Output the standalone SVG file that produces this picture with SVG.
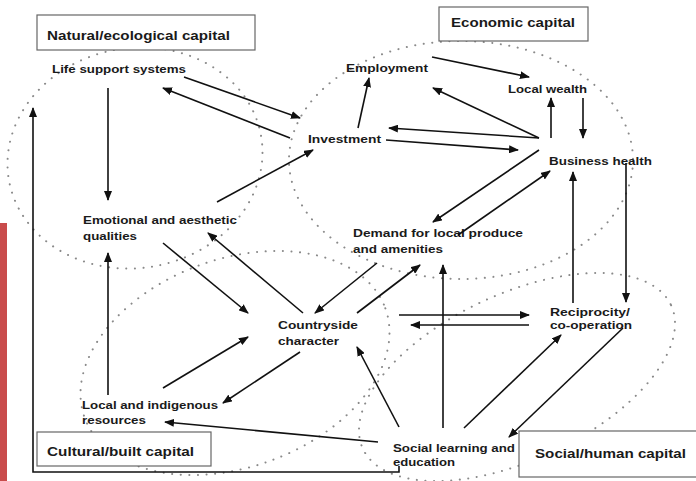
<svg xmlns="http://www.w3.org/2000/svg" width="696" height="481" viewBox="0 0 696 481">
<defs>
<marker id="ah" markerUnits="userSpaceOnUse" markerWidth="10" markerHeight="8" refX="9" refY="4" orient="auto">
<path d="M0,0 L10,4 L0,8 z" fill="#111"/>
</marker>
<style>
.bg{fill:#fff}
.ell{fill:none;stroke:#8a8a8a;stroke-width:2;stroke-dasharray:0.1 8.5;stroke-linecap:round}
.box{fill:#fff;stroke:#666;stroke-width:1.2}
.t{font-family:"Liberation Sans",Arial,sans-serif;font-weight:bold;fill:#1a1a1a}
.cap{font-size:13px}
.lab{font-size:11px}
.c line,.c polyline{stroke:#111;stroke-width:1.6;fill:none}
.a{marker-end:url(#ah)}
</style>
</defs>
<rect class="bg" x="0" y="0" width="696" height="481"/>
<rect x="0" y="223" width="7" height="258" fill="#c94c4c"/>

<g id="ellipses">
<ellipse class="ell" cx="135" cy="158" rx="128" ry="110" transform="rotate(-10 135 158)"/>
<ellipse class="ell" cx="461" cy="160" rx="172" ry="119"/>
<ellipse class="ell" cx="235" cy="363" rx="160" ry="104" transform="rotate(-20 235 363)"/>
<ellipse class="ell" cx="517" cy="377" rx="170" ry="83" transform="rotate(-25 517 377)"/>
</g>

<g id="natural-capital">
<rect class="box" x="37" y="15" width="218" height="35"/>
<text class="t cap" x="47" y="40" textLength="183" lengthAdjust="spacingAndGlyphs">Natural/ecological capital</text>
</g>
<g id="economic-capital">
<rect class="box" x="439" y="7" width="149" height="34"/>
<text class="t cap" x="451" y="27" textLength="124" lengthAdjust="spacingAndGlyphs">Economic capital</text>
</g>
<g id="cultural-capital">
<rect class="box" x="37" y="432" width="174" height="34"/>
<text class="t cap" x="47" y="456" textLength="147" lengthAdjust="spacingAndGlyphs">Cultural/built capital</text>
</g>
<g id="social-capital">
<rect class="box" x="519" y="431" width="180" height="46"/>
<text class="t cap" x="535" y="458" textLength="151" lengthAdjust="spacingAndGlyphs">Social/human capital</text>
</g>

<g id="life-support">
<text class="t lab" x="52" y="73" textLength="134" lengthAdjust="spacingAndGlyphs">Life support systems</text>
</g>
<g id="employment">
<text class="t lab" x="346" y="72" textLength="82" lengthAdjust="spacingAndGlyphs">Employment</text>
</g>
<g id="local-wealth">
<text class="t lab" x="508" y="93" textLength="79" lengthAdjust="spacingAndGlyphs">Local wealth</text>
</g>
<g id="investment">
<text class="t lab" x="308" y="143" textLength="73" lengthAdjust="spacingAndGlyphs">Investment</text>
</g>
<g id="business-health">
<text class="t lab" x="549" y="165" textLength="103" lengthAdjust="spacingAndGlyphs">Business health</text>
</g>
<g id="emotional">
<text class="t lab" x="83" y="224" textLength="154" lengthAdjust="spacingAndGlyphs">Emotional and aesthetic</text>
<text class="t lab" x="83" y="240" textLength="54" lengthAdjust="spacingAndGlyphs">qualities</text>
</g>
<g id="demand">
<text class="t lab" x="353" y="237" textLength="170" lengthAdjust="spacingAndGlyphs">Demand for local produce</text>
<text class="t lab" x="353" y="253" textLength="90" lengthAdjust="spacingAndGlyphs">and amenities</text>
</g>
<g id="countryside">
<text class="t lab" x="278" y="329" textLength="80" lengthAdjust="spacingAndGlyphs">Countryside</text>
<text class="t lab" x="278" y="345" textLength="61" lengthAdjust="spacingAndGlyphs">character</text>
</g>
<g id="reciprocity">
<text class="t lab" x="550" y="316" textLength="80" lengthAdjust="spacingAndGlyphs">Reciprocity/</text>
<text class="t lab" x="550" y="329" textLength="82" lengthAdjust="spacingAndGlyphs">co-operation</text>
</g>
<g id="local-resources">
<text class="t lab" x="82" y="409" textLength="136" lengthAdjust="spacingAndGlyphs">Local and indigenous</text>
<text class="t lab" x="82" y="424" textLength="64" lengthAdjust="spacingAndGlyphs">resources</text>
</g>
<g id="social-learning">
<text class="t lab" x="393" y="452" textLength="122" lengthAdjust="spacingAndGlyphs">Social learning and</text>
<text class="t lab" x="393" y="466" textLength="62" lengthAdjust="spacingAndGlyphs">education</text>
</g>

<g id="connectors" class="c">
<line class="a" x1="184" y1="77" x2="300" y2="118"/>
<line class="a" x1="290" y1="138" x2="163" y2="88"/>
<line class="a" x1="108" y1="88" x2="108" y2="200"/>
<line class="a" x1="217" y1="202" x2="313" y2="150"/>
<polyline class="a" points="399,466 399,472 33,472 33,108"/>
<line class="a" x1="358" y1="128" x2="369" y2="78"/>
<line class="a" x1="432" y1="57" x2="529" y2="77"/>
<line class="a" x1="539" y1="138" x2="433" y2="88"/>
<line class="a" x1="539" y1="138" x2="389" y2="128"/>
<line class="a" x1="386" y1="140" x2="518" y2="150"/>
<line class="a" x1="551" y1="138" x2="551" y2="98"/>
<line class="a" x1="583" y1="98" x2="583" y2="138"/>
<line class="a" x1="539" y1="150" x2="433" y2="222"/>
<line class="a" x1="458" y1="235" x2="550" y2="171"/>
<line class="a" x1="357" y1="313" x2="420" y2="265"/>
<line class="a" x1="377" y1="263" x2="315" y2="313"/>
<line class="a" x1="303" y1="313" x2="208" y2="233"/>
<line class="a" x1="163" y1="243" x2="248" y2="313"/>
<line class="a" x1="163" y1="388" x2="248" y2="337"/>
<line class="a" x1="300" y1="352" x2="223" y2="403"/>
<line class="a" x1="108" y1="395" x2="108" y2="253"/>
<line class="a" x1="378" y1="442" x2="165" y2="422"/>
<line class="a" x1="399" y1="427" x2="357" y2="347"/>
<line class="a" x1="443" y1="428" x2="443" y2="265"/>
<line class="a" x1="464" y1="428" x2="561" y2="335"/>
<line class="a" x1="623" y1="328" x2="509" y2="437"/>
<line class="a" x1="399" y1="315" x2="529" y2="315"/>
<line class="a" x1="529" y1="325" x2="411" y2="325"/>
<line class="a" x1="573" y1="303" x2="573" y2="172"/>
<line class="a" x1="626" y1="163" x2="626" y2="302"/>
</g>
</svg>
